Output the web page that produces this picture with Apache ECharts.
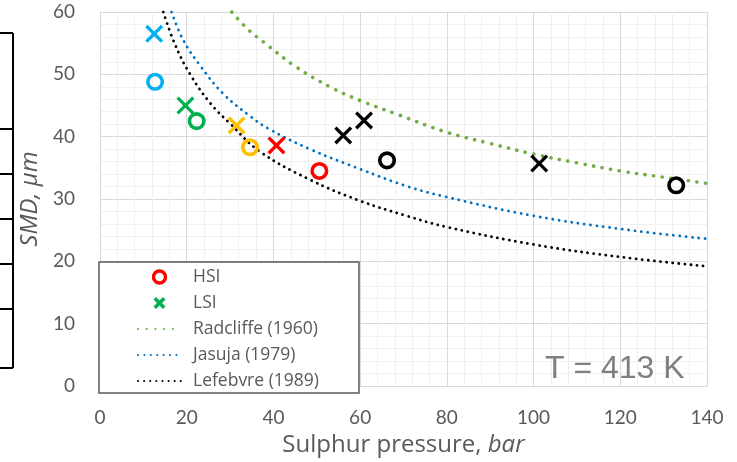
<!DOCTYPE html>
<html>
<head>
<meta charset="utf-8">
<script src="https://cdn.jsdelivr.net/npm/echarts@6/dist/echarts.min.js"></script>
<style>html,body{margin:0;padding:0;background:#fff;}#c{width:737px;height:462px;}</style>
</head>
<body>
<div id="c"></div>
<script>
// Markers: HSI = circles, LSI = crosses, grouped by colour
const hsiCyan = [[12.7, 48.8]];
const hsiGreen = [[22.3, 42.5]];
const hsiYellow = [[34.6, 38.3]];
const hsiRed = [[50.6, 34.5]];
const hsiBlack = [[66.2, 36.2], [132.9, 32.2]];
const lsiCyan = [[12.5, 56.5]];
const lsiGreen = [[19.7, 45.0]];
const lsiYellow = [[31.5, 41.8]];
const lsiRed = [[40.7, 38.6]];
const lsiBlack = [[56.1, 40.2], [60.9, 42.6], [101.3, 35.7]];
// Correlation curves
const radcliffe = [[30.4,60],[34,57.3],[38.8,54.6],[45,51.3],[53,48.0],[60,45.8],[68.5,43.6],[80,40.7],[90,38.9],[100,37.2],[110,35.8],[120,34.5],[130,33.5],[140,32.5]];
const jasuja = [[16.5,60],[19.2,55.5],[23.1,51.4],[28.4,46.9],[34.6,43.3],[38.8,41.3],[48.4,38.0],[60,34.8],[71,32.0],[80,30.3],[100,27.3],[120,25.2],[140,23.6]];
const lefebvre = [[14.6,60],[17.3,54.8],[20.8,50.0],[25.4,45.4],[30,42.1],[36.9,37.6],[48.4,33.1],[60,29.7],[70.7,27.3],[80,25.5],[100,22.7],[120,20.7],[140,19.2]];
const markerNames = ['HSI', 'LSI'];
const curveNames = ['Radcliffe (1960)', 'Jasuja (1979)', 'Lefebvre (1989)'];

const FONT = 'Lato';
const FONT2 = '"Open Sans"';
const TXT = '#595959';
const CROSS = 'path://M0,1.3 L1.3,0 L5,3.7 L8.7,0 L10,1.3 L6.3,5 L10,8.7 L8.7,10 L5,6.3 L1.3,10 L0,8.7 L3.7,5 Z';
const CROSS_BOLD = 'path://M0,2.1 L2.1,0 L5,2.9 L7.9,0 L10,2.1 L7.1,5 L10,7.9 L7.9,10 L5,7.1 L2.1,10 L0,7.9 L2.9,5 Z';

function circles(name, data, color) {
  return { type: 'scatter', name: name, data: data, symbol: 'circle', symbolSize: 14.5,
    itemStyle: { color: 'rgba(255,255,255,0)', borderColor: color, borderWidth: 3.6, opacity: 1 }, z: 5 };
}
function crosses(name, data, color) {
  return { type: 'scatter', name: name, data: data, symbol: CROSS, symbolSize: 18, symbolKeepAspect: true,
    itemStyle: { color: color, opacity: 1 }, z: 5 };
}
function curve(name, data, color, width, gap) {
  return { type: 'line', name: name, data: data, symbol: 'none', smooth: 0.4, z: 3,
    lineStyle: { color: color, width: width, type: [0.1, gap], cap: 'round' },
    itemStyle: { color: color } };
}

const legendData = [
  { name: markerNames[0], itemStyle: { borderWidth: 3.4 } },
  { name: markerNames[1], icon: CROSS_BOLD }
].concat(curveNames.map(n => ({ name: n, itemStyle: { opacity: 0 } })));

const chart = echarts.init(document.getElementById('c'), null, { renderer: 'canvas' });
chart.setOption({
  animation: false,
  backgroundColor: '#fff',
  grid: { left: 100, right: 30, top: 12, bottom: 75 },
  xAxis: {
    type: 'value', min: 0, max: 140, interval: 20,
    axisLine: { show: true, lineStyle: { color: '#d9d9d9', width: 1 } },
    axisTick: { show: false },
    axisLabel: { color: TXT, fontFamily: FONT, fontSize: 19, margin: 22 },
    splitLine: { show: true, lineStyle: { color: '#d9d9d9', width: 1 } },
    minorTick: { show: false, splitNumber: 5 },
    minorSplitLine: { show: true, lineStyle: { color: '#f0f0f0', width: 1 } },
    name: 'Sulphur pressure, {i|bar}', nameLocation: 'middle', nameGap: 47,
    nameTextStyle: { color: TXT, fontFamily: FONT2, fontSize: 24,
      rich: { i: { fontStyle: 'italic', color: TXT, fontFamily: FONT2, fontSize: 24 } } }
  },
  yAxis: {
    type: 'value', min: 0, max: 60, interval: 10,
    axisLine: { show: true, lineStyle: { color: '#d9d9d9', width: 1 } },
    axisTick: { show: false },
    axisLabel: { color: TXT, fontFamily: FONT, fontSize: 19, margin: 25 },
    splitLine: { show: true, lineStyle: { color: '#d9d9d9', width: 1 } },
    minorTick: { show: false, splitNumber: 5 },
    minorSplitLine: { show: true, lineStyle: { color: '#f0f0f0', width: 1 } },
    name: 'SMD, μm', nameLocation: 'middle', nameGap: 54,
    nameTextStyle: { color: TXT, fontFamily: FONT2, fontSize: 24, fontStyle: 'italic' }
  },
  legend: {
    data: legendData, orient: 'vertical', left: 99, top: 262,
    padding: [6, 40, 3, 38], itemWidth: 43, itemHeight: 12, itemGap: 8,
    backgroundColor: '#fff', borderColor: '#595959', borderWidth: 1.5, borderRadius: 0,
    selectedMode: false,
    textStyle: { color: TXT, fontFamily: FONT2, fontSize: 17.5, lineHeight: 17, padding: [0, 0, 0, 7] }
  },
  graphic: [
    { type: 'text', left: 545, top: 353, style: { text: 'T = 413 K', fill: '#7f7f7f', font: '32px "Liberation Sans"' }, z: 10 },
    { type: 'line', shape: { x1: 13, y1: 33, x2: 13, y2: 368 }, style: { stroke: '#000', lineWidth: 2 } },
    { type: 'line', shape: { x1: 0, y1: 33, x2: 13, y2: 33 }, style: { stroke: '#000', lineWidth: 2 } },
    { type: 'line', shape: { x1: 0, y1: 129, x2: 13, y2: 129 }, style: { stroke: '#000', lineWidth: 2 } },
    { type: 'line', shape: { x1: 0, y1: 174, x2: 13, y2: 174 }, style: { stroke: '#000', lineWidth: 2 } },
    { type: 'line', shape: { x1: 0, y1: 219, x2: 13, y2: 219 }, style: { stroke: '#000', lineWidth: 2 } },
    { type: 'line', shape: { x1: 0, y1: 264, x2: 13, y2: 264 }, style: { stroke: '#000', lineWidth: 2 } },
    { type: 'line', shape: { x1: 0, y1: 309, x2: 13, y2: 309 }, style: { stroke: '#000', lineWidth: 2 } },
    { type: 'line', shape: { x1: 0, y1: 368, x2: 13, y2: 368 }, style: { stroke: '#000', lineWidth: 2 } }
  ],
  series: [
    curve('Radcliffe (1960)', radcliffe, '#70AD47', 3.6, 8.6),
    curve('Jasuja (1979)', jasuja, '#0070C0', 2.8, 6.3),
    curve('Lefebvre (1989)', lefebvre, '#000000', 2.8, 6.0),
    circles('HSI', hsiRed, '#FF0000'),
    crosses('LSI', lsiGreen, '#00B050'),
    circles('HSI cyan', hsiCyan, '#00B0F0'),
    circles('HSI green', hsiGreen, '#00B050'),
    circles('HSI yellow', hsiYellow, '#FFC000'),
    circles('HSI black', hsiBlack, '#000000'),
    crosses('LSI cyan', lsiCyan, '#00B0F0'),
    crosses('LSI yellow', lsiYellow, '#FFC000'),
    crosses('LSI red', lsiRed, '#FF0000'),
    crosses('LSI black', lsiBlack, '#000000')
  ]
});
</script>
</body>
</html>
